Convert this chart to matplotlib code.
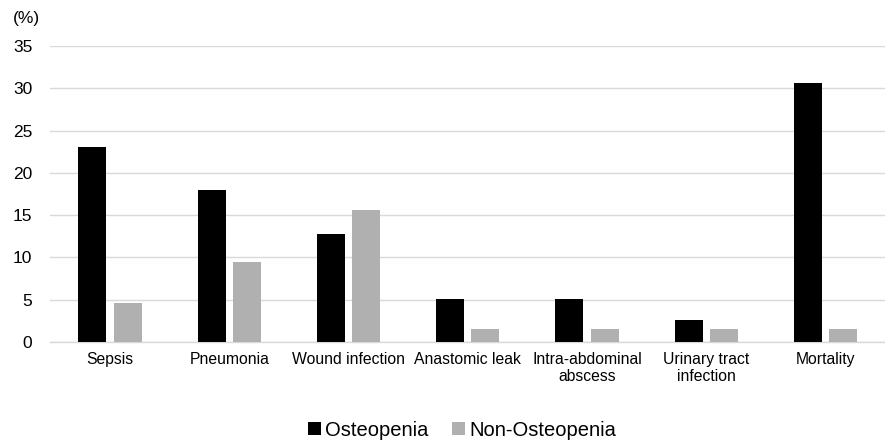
import numpy as np
import matplotlib
matplotlib.use("Agg")
import matplotlib.pyplot as plt

plt.rcParams["font.family"] = ["Liberation Sans", "DejaVu Sans"]

categories = ["Sepsis", "Pneumonia", "Wound infection", "Anastomic leak",
              "Intra-abdominal\nabscess", "Urinary tract\ninfection", "Mortality"]
osteopenia = [23.1, 18.0, 12.8, 5.1, 5.1, 2.6, 30.7]
non_osteopenia = [4.6, 9.4, 15.6, 1.5, 1.5, 1.5, 1.5]
yticks = [0, 5, 10, 15, 20, 25, 30, 35]

fig = plt.figure(figsize=(8.85, 4.4), dpi=100)
ax = fig.add_axes([0.057, 0.223, 0.943, 0.672])

x = np.arange(len(categories))
w = 0.235
ax.bar(x - w / 2 - 0.03, osteopenia, w, color="black", label="Osteopenia", zorder=3)
ax.bar(x + w / 2 + 0.03, non_osteopenia, w, color="#b0b0b0", label="Non-Osteopenia", zorder=3)

ax.set_xlim(-0.5, len(categories) - 0.5)
ax.set_ylim(0, 35)
ax.set_yticks(yticks)
ax.set_xticks(x)
ax.set_xticklabels(categories, fontsize=11.3)
ax.tick_params(axis="y", labelsize=12.5, length=0, pad=13)
ax.tick_params(axis="x", length=0, pad=7)
ax.grid(axis="y", color="#d9d9d9", linewidth=1, zorder=0)
for s in ["top", "right", "left"]:
    ax.spines[s].set_visible(False)
ax.spines["bottom"].set_color("#d9d9d9")
ax.spines["bottom"].set_linewidth(1)

fig.text(0.014, 0.957, "(%)", fontsize=12.5, va="center")

fig.legend(loc="center", bbox_to_anchor=(0.522, 0.022), ncol=2, frameon=False,
           fontsize=14.5, handlelength=0.65, handleheight=0.65, handletextpad=0.2,
           columnspacing=1.2)

fig.savefig("out.png", dpi=100)
